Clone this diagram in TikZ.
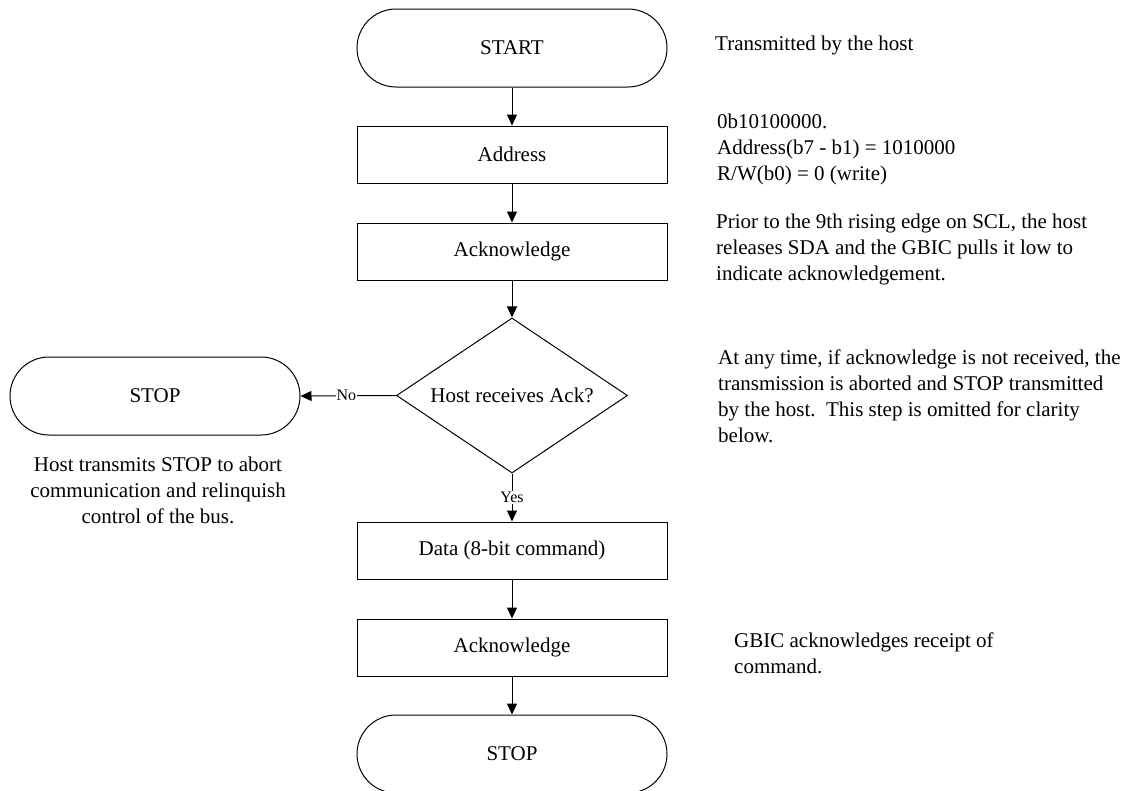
\documentclass[tikz,border=0pt]{standalone}
\usepackage{fontspec}
\setmainfont{Liberation Serif}
\usetikzlibrary{shapes.geometric,arrows.meta}
\begin{document}
\begin{tikzpicture}[x=1pt,y=-1pt,
  every node/.style={font=\fontsize{21}{26}\selectfont},
  base/.style={draw, line width=1pt},
  procbox/.style={base, rectangle, minimum width=310pt, minimum height=57pt, inner sep=0pt},
  term/.style={base, rectangle, rounded corners=39pt, minimum width=310pt, minimum height=78pt, inner sep=0pt},
  decision/.style={base, diamond, aspect=1.49, minimum width=231pt, minimum height=155pt, inner sep=0pt},
  conn/.style={line width=1pt, -{Triangle[length=11pt,width=10pt]}},
  note/.style={inner sep=0pt, align=left, anchor=west},
  lbl/.style={font=\fontsize{16}{18}\selectfont, fill=white, inner sep=1pt}]
\useasboundingbox (0,0) rectangle (1130,790);

\node[term] (start) at (512,48) {START};
\node[procbox] (addr) at (512,154.5) {Address};
\node[procbox] (ack1) at (512,251.5) {Acknowledge};
\node[decision] (dec) at (512,395.5) {Host receives Ack?};
\node[procbox] (data) at (512,550.5) {Data (8-bit command)};
\node[procbox] (ack2) at (512,647.5) {Acknowledge};
\node[term] (stop2) at (512,754) {STOP};
\node[term, minimum width=290pt] (stop1) at (155,396) {STOP};

\draw[conn] (start) -- (addr);
\draw[conn] (addr) -- (ack1);
\draw[conn] (ack1) -- (dec);
\draw[conn] (dec) -- node[lbl, pos=0.5] {Yes} (data);
\draw[conn] (data) -- (ack2);
\draw[conn] (ack2) -- (stop2);
\draw[conn] (dec.west) -- node[lbl, pos=0.52] {No} (stop1.east);

\node[note] (t1) at (715,45) {Transmitted by the host};
\node[note] (t2) at (717,149) {0b10100000.\\Address(b7 - b1) = 1010000\\R/W(b0) = 0 (write)};
\node[note] (t3) at (716,249) {Prior to the 9th rising edge on SCL, the host\\releases SDA and the GBIC pulls it low to\\indicate acknowledgement.};
\node[note] (t4) at (718,396) {At any time, if acknowledge is not received, the\\transmission is aborted and STOP transmitted\\by the host.\ \ This step is omitted for clarity\\below.};
\node[note] (t5) at (734,653) {GBIC acknowledges receipt of\\command.};
\node[inner sep=0pt, align=center] (t6) at (158,490) {Host transmits STOP to abort\\communication and relinquish\\control of the bus.};
\end{tikzpicture}
\end{document}
